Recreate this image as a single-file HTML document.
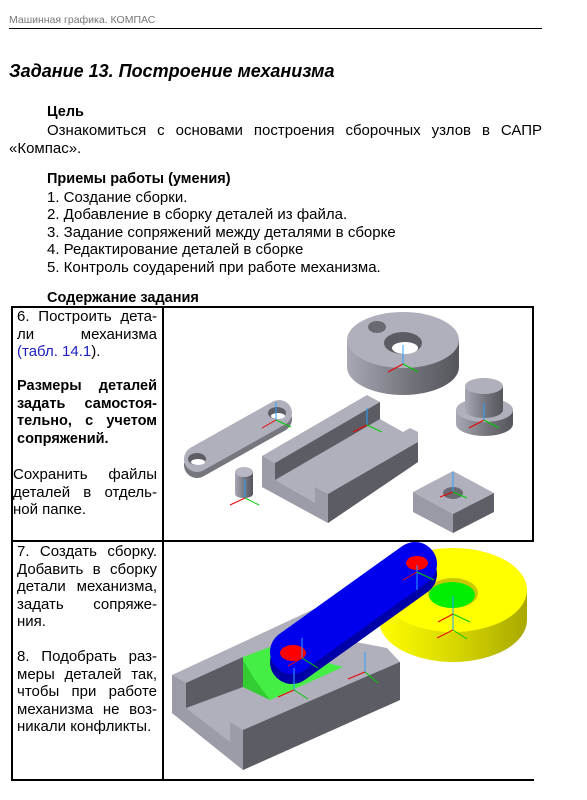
<!DOCTYPE html>
<html><head><meta charset="utf-8">
<style>
html,body{margin:0;padding:0;background:#fff;}
body{width:587px;height:800px;position:relative;overflow:hidden;font-family:"Liberation Sans","DejaVu Sans",sans-serif;color:#000;}
.t{position:absolute;font-size:15px;line-height:17.5px;white-space:nowrap;}
.j{position:absolute;font-size:15px;line-height:17.5px;text-align:justify;text-align-last:justify;white-space:normal;}
.b{font-weight:bold;font-size:14.5px;}
</style></head><body>
<div class="t" style="left:9px;top:12px;font-size:10.5px;color:#777;">Машинная графика. КОМПАС</div>
<div style="position:absolute;left:9px;top:28px;width:533px;height:1px;background:#000;"></div>
<div class="t" style="left:9px;top:60px;font-size:18px;font-weight:bold;font-style:italic;line-height:22px;">Задание 13. Построение механизма</div>

<div class="t b" style="left:47px;top:104px;">Цель</div>
<div class="j" style="left:47px;top:122px;width:495px;">Ознакомиться с основами построения сборочных узлов в САПР</div>
<div class="t" style="left:9px;top:140px;">«Компас».</div>
<div class="t b" style="left:47px;top:171px;">Приемы работы (умения)</div>
<div class="t" style="left:47px;top:189px;">1. Создание сборки.</div>
<div class="t" style="left:47px;top:206px;">2. Добавление в сборку деталей из файла.</div>
<div class="t" style="left:47px;top:224px;">3. Задание сопряжений между деталями в сборке</div>
<div class="t" style="left:47px;top:241px;">4. Редактирование деталей в сборке</div>
<div class="t" style="left:47px;top:259px;">5. Контроль соударений при работе механизма.</div>
<div class="t b" style="left:47px;top:290px;">Содержание задания</div>

<div style="position:absolute;left:11px;top:306px;width:523px;height:2px;background:#000;"></div>
<div style="position:absolute;left:11px;top:306px;width:2px;height:475px;background:#000;"></div>
<div style="position:absolute;left:162px;top:306px;width:2px;height:475px;background:#000;"></div>
<div style="position:absolute;left:532px;top:306px;width:2px;height:236px;background:#000;"></div>
<div style="position:absolute;left:11px;top:540px;width:523px;height:2px;background:#000;"></div>
<div style="position:absolute;left:11px;top:779px;width:523px;height:2px;background:#000;"></div>

<div class="j" style="left:17px;top:308px;width:140px;">6. Построить дета-</div>
<div class="j" style="left:17px;top:326px;width:140px;">ли механизма</div>
<div class="t" style="left:17px;top:343px;"><span style="color:#2020c0">(табл. 14.1</span>).</div>
<div class="j b" style="left:17px;top:378px;width:140px;">Размеры деталей</div>
<div class="j b" style="left:17px;top:396px;width:140px;">задать самостоя-</div>
<div class="j b" style="left:17px;top:413px;width:140px;">тельно, с учетом</div>
<div class="t b" style="left:17px;top:431px;">сопряжений.</div>
<div class="j" style="left:13px;top:466px;width:144px;">Сохранить файлы</div>
<div class="j" style="left:13px;top:484px;width:144px;">деталей в отдель-</div>
<div class="t" style="left:13px;top:501px;">ной папке.</div>

<div class="j" style="left:17px;top:543px;width:140px;">7. Создать сборку.</div>
<div class="j" style="left:17px;top:561px;width:140px;">Добавить в сборку</div>
<div class="j" style="left:17px;top:578px;width:140px;">детали механизма,</div>
<div class="j" style="left:17px;top:596px;width:140px;">задать сопряже-</div>
<div class="t" style="left:17px;top:613px;">ния.</div>
<div class="j" style="left:17px;top:648px;width:140px;">8. Подобрать раз-</div>
<div class="j" style="left:17px;top:666px;width:140px;">меры деталей так,</div>
<div class="j" style="left:17px;top:683px;width:140px;">чтобы при работе</div>
<div class="j" style="left:17px;top:701px;width:140px;">механизма не воз-</div>
<div class="t" style="left:17px;top:718px;">никали конфликты.</div>

<svg width="587" height="800" style="position:absolute;left:0;top:0;" xmlns="http://www.w3.org/2000/svg">
<defs>
<linearGradient id="gs" x1="0" x2="1" y1="0" y2="0"><stop offset="0" stop-color="#a8a8b4"/><stop offset="0.6" stop-color="#707078"/><stop offset="1" stop-color="#55555c"/></linearGradient>
<linearGradient id="ys" x1="0" x2="1" y1="0" y2="0"><stop offset="0" stop-color="#ffff00"/><stop offset="0.5" stop-color="#d8d800"/><stop offset="1" stop-color="#a8a800"/></linearGradient>
</defs>
<path d="M347,340 L347,367 A56,28 0 0 0 459,367 L459,340 Z" fill="url(#gs)"/>
<ellipse cx="403" cy="340" rx="56" ry="28" fill="#b0b0bc"/>
<ellipse cx="403" cy="343" rx="19" ry="11" fill="#5c5c64"/>
<ellipse cx="405" cy="348" rx="13" ry="6" fill="#fff"/>
<ellipse cx="377" cy="327" rx="9" ry="6" fill="#6a6a72"/>
<line x1="403" y1="345" x2="403" y2="364" stroke="#2a9fff"/><line x1="403" y1="364" x2="388" y2="372" stroke="#e00"/><line x1="403" y1="364" x2="418" y2="372" stroke="#0c0"/>
<path d="M456,410 L456,424 A28.5,12 0 0 0 513,424 L513,410 Z" fill="url(#gs)"/>
<ellipse cx="484.5" cy="410" rx="28.5" ry="12" fill="#b0b0bc"/>
<path d="M465,386 L465,410 A19,8 0 0 0 503,410 L503,386 Z" fill="url(#gs)"/>
<ellipse cx="484" cy="386" rx="19" ry="8" fill="#b0b0bc"/>
<line x1="484" y1="403" x2="484" y2="420" stroke="#2a9fff"/><line x1="484" y1="420" x2="469" y2="428" stroke="#e00"/><line x1="484" y1="420" x2="499" y2="428" stroke="#0c0"/>
<polygon points="413,492 453,471 494,493 453,514" fill="#b0b0bc"/>
<polygon points="413,492 453,514 453,533 413,512" fill="#9a9aa6"/>
<polygon points="453,514 494,493 494,512 453,533" fill="#5e5e66"/>
<ellipse cx="453" cy="493" rx="10" ry="6" fill="#6a6a72"/>
<line x1="453" y1="472" x2="453" y2="492" stroke="#2a9fff"/><line x1="453" y1="492" x2="440" y2="497" stroke="#e00"/><line x1="453" y1="492" x2="467" y2="498" stroke="#0c0"/>
<line x1="197" y1="465" x2="279" y2="419" stroke="#76767e" stroke-width="26" stroke-linecap="round"/>
<line x1="197" y1="459" x2="279" y2="413" stroke="#b0b0bc" stroke-width="26" stroke-linecap="round"/>
<ellipse cx="197" cy="459" rx="9" ry="6" fill="#5e5e66"/><ellipse cx="198" cy="462" rx="7" ry="3" fill="#fff"/>
<ellipse cx="277" cy="413" rx="9" ry="6" fill="#5e5e66"/><ellipse cx="278" cy="416" rx="7" ry="3" fill="#fff"/>
<line x1="276" y1="402" x2="276" y2="420" stroke="#2a9fff"/><line x1="276" y1="420" x2="262" y2="428" stroke="#e00"/><line x1="276" y1="420" x2="291" y2="427" stroke="#0c0"/>
<path d="M235,472 L235,494 A9,4 0 0 0 253,494 L253,472 Z" fill="url(#gs)"/>
<ellipse cx="244" cy="472" rx="9" ry="5" fill="#b8b8c4"/>
<line x1="245" y1="479" x2="245" y2="498" stroke="#2a9fff"/><line x1="245" y1="498" x2="230" y2="505" stroke="#e00"/><line x1="245" y1="498" x2="259" y2="505" stroke="#0c0"/>
<polygon points="262,456 367,395 380,402 380,419 403,432 410,428 418,432 418,462 328,523 262,487" fill="#b0b0bc"/>
<polygon points="275,463 380,402 380,419 275,480" fill="#5c5c64"/>
<polygon points="328,494 418,442 418,462 328,523" fill="#5c5c64"/>
<polygon points="262,456 275,463 275,480 315,503 315,487 328,494 328,523 262,487" fill="#9c9ca8"/>
<line x1="367" y1="408" x2="367" y2="425" stroke="#2a9fff"/><line x1="367" y1="425" x2="353" y2="432" stroke="#e00"/><line x1="367" y1="425" x2="382" y2="432" stroke="#0c0"/>

<path d="M379,590 L379,620 A74,42 0 0 0 527,620 L527,590 Z" fill="url(#ys)"/>
<ellipse cx="453" cy="590" rx="74" ry="42" fill="#ffff00"/>
<ellipse cx="453" cy="593" rx="25" ry="15" fill="#c8c800"/>
<ellipse cx="452" cy="595" rx="23" ry="13" fill="#00ee00"/>
<line x1="453" y1="596" x2="453" y2="630" stroke="#2a9fff"/><line x1="453" y1="614" x2="438" y2="622" stroke="#e00"/><line x1="453" y1="614" x2="470" y2="622" stroke="#0c0"/>
<line x1="453" y1="630" x2="437" y2="638" stroke="#e00"/><line x1="453" y1="630" x2="467" y2="639" stroke="#0c0"/>
<polygon points="172,675 327,603 340,610 345,640 387,648 400,662 400,700 243,770 172,713" fill="#b0b0bc"/>
<polygon points="186,683 243,657 243,687 186,708" fill="#5c5c64"/>
<polygon points="172,675 186,683 186,708 230,742 230,722 243,730 243,770 172,713" fill="#9c9ca8"/>
<polygon points="243,730 400,662 400,700 243,770" fill="#5c5c64"/>
<polygon points="243,657 270,647 343,667 270,700 243,687" fill="#44ee44"/>
<polygon points="243,660 243,687 270,700 255,680" fill="#33cc33"/>
<line x1="292" y1="662" x2="415" y2="574" stroke="#0000a8" stroke-width="44" stroke-linecap="round"/>
<line x1="292" y1="652" x2="415" y2="564" stroke="#0000ee" stroke-width="44" stroke-linecap="round"/>
<ellipse cx="293" cy="653" rx="13" ry="8" fill="#f00"/>
<ellipse cx="417" cy="563" rx="11" ry="7" fill="#f00"/>
<line x1="302" y1="638" x2="302" y2="658" stroke="#2a9fff"/><line x1="302" y1="658" x2="318" y2="668" stroke="#0c0"/><line x1="302" y1="658" x2="288" y2="666" stroke="#e00"/>
<line x1="294" y1="668" x2="294" y2="690" stroke="#2a9fff"/><line x1="294" y1="690" x2="278" y2="697" stroke="#e00"/><line x1="294" y1="690" x2="308" y2="699" stroke="#0c0"/>
<line x1="365" y1="652" x2="365" y2="672" stroke="#2a9fff"/><line x1="365" y1="672" x2="348" y2="679" stroke="#e00"/><line x1="365" y1="672" x2="378" y2="683" stroke="#0c0"/>
<line x1="417" y1="565" x2="417" y2="590" stroke="#2a9fff"/><line x1="417" y1="572" x2="403" y2="580" stroke="#e00"/><line x1="417" y1="572" x2="434" y2="580" stroke="#0c0"/>
</svg>
</body></html>
